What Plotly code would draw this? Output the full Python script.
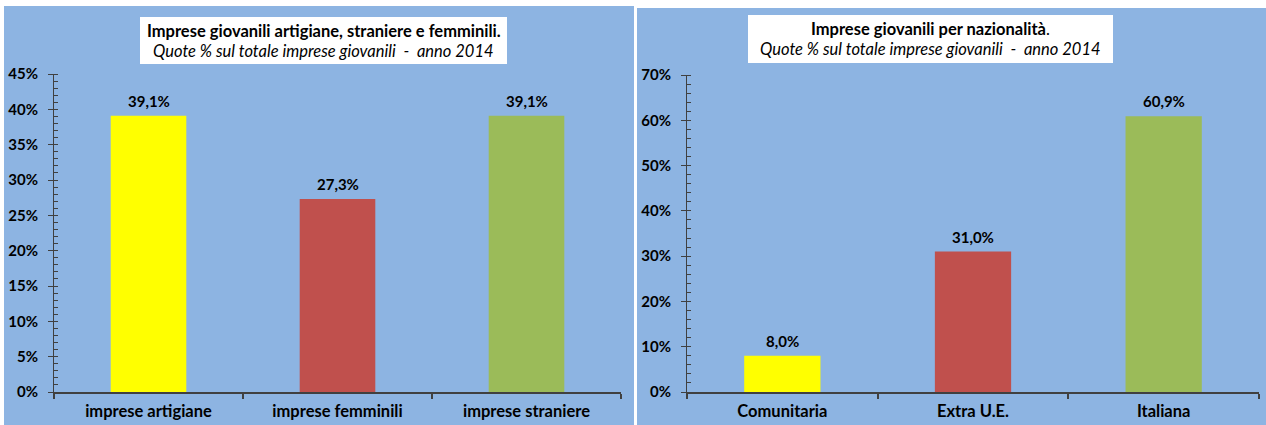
import plotly.graph_objects as go

W, H = 1266, 425

# ---- data ----
cat_left = ["imprese artigiane", "imprese femminili", "imprese straniere"]
val_left = [0.391, 0.273, 0.391]
cat_right = ["Comunitaria", "Extra U.E.", "Italiana"]
val_right = [0.080, 0.310, 0.609]
bar_colors = ["#FFFF00", "#C0504D", "#9BBB59"]

title_left = "<b>Imprese giovanili artigiane, straniere e femminili.</b>"
title_right = "<b>Imprese giovanili per nazionalità</b>."
subtitle = "<i>Quote % sul totale imprese giovanili  -  anno 2014</i>"

FONT = "Lato"
BG = "#8DB4E2"
AX = "#404040"
BOLD = dict(family=FONT, color="#000000", weight="bold")


def px(x):
    return x / W


def py(y):
    return 1 - y / H


fig = go.Figure()
fig.add_trace(go.Bar(x=cat_left, y=val_left, marker=dict(color=bar_colors, line=dict(width=0)),
                     width=0.4, xaxis="x", yaxis="y", hoverinfo="skip"))
fig.add_trace(go.Bar(x=cat_right, y=val_right, marker=dict(color=bar_colors, line=dict(width=0)),
                     width=0.4, xaxis="x2", yaxis="y2", hoverinfo="skip"))

common_x = dict(type="category", showline=True, linecolor=AX, linewidth=1.5, ticks="outside",
                tickson="boundaries", ticklen=5, tickcolor=AX, tickwidth=1.5, showgrid=False,
                tickfont=dict(size=16.5, **BOLD), zeroline=False, ticklabelstandoff=3,
                range=[-0.5, 2.5], fixedrange=True, automargin=False)
common_y = dict(showline=True, linecolor=AX, linewidth=1, ticks="outside", ticklen=5,
                tickcolor=AX, showgrid=False, zeroline=False, tickformat=".0%",
                ticklabelstandoff=7, automargin=False,
                tickfont=dict(size=15, **BOLD), fixedrange=True)


def label_fmt(v):
    return ("%.1f%%" % (v * 100)).replace(".", ",")


annotations = []
for cats, vals, xr, yr in [(cat_left, val_left, "x", "y"), (cat_right, val_right, "x2", "y2")]:
    for c, v in zip(cats, vals):
        annotations.append(dict(text=label_fmt(v), x=c, y=v, xref=xr, yref=yr, showarrow=False,
                                xanchor="center", yanchor="bottom", yshift=4,
                                font=dict(size=15, **BOLD)))

TF = dict(family=FONT, size=16.5, color="#000000")
annotations += [
    dict(text=title_left, xref="paper", yref="paper", x=px(323.5), y=py(31), showarrow=False,
         font=TF, xanchor="center", yanchor="middle"),
    dict(text=subtitle, xref="paper", yref="paper", x=px(323.5), y=py(51), showarrow=False,
         font=TF, xanchor="center", yanchor="middle"),
    dict(text=title_right, xref="paper", yref="paper", x=px(930.5), y=py(29), showarrow=False,
         font=TF, xanchor="center", yanchor="middle"),
    dict(text=subtitle, xref="paper", yref="paper", x=px(930.5), y=py(49), showarrow=False,
         font=TF, xanchor="center", yanchor="middle"),
]

fig.update_layout(
    width=W, height=H, margin=dict(l=0, r=0, t=0, b=0, pad=0, autoexpand=False),
    paper_bgcolor="white", plot_bgcolor="rgba(0,0,0,0)", showlegend=False,
    xaxis=dict(domain=[px(54), px(621)], anchor="y", **common_x),
    yaxis=dict(domain=[py(392), py(74)], anchor="x", range=[0, 0.45], dtick=0.05,
               minor=dict(ticks="inside", ticklen=4, dtick=0.01, tickcolor=AX, showgrid=False),
               **common_y),
    xaxis2=dict(domain=[px(687), px(1259)], anchor="y2", **common_x),
    yaxis2=dict(domain=[py(392), py(75)], anchor="x2", range=[0, 0.70], dtick=0.10,
                minor=dict(ticks="inside", ticklen=4, dtick=0.02, tickcolor=AX, showgrid=False),
                **common_y),
    shapes=[
        dict(type="rect", xref="paper", yref="paper", x0=px(4), x1=px(634), y0=0, y1=py(6),
             fillcolor=BG, line=dict(width=0), layer="below"),
        dict(type="rect", xref="paper", yref="paper", x0=px(637), x1=1, y0=0, y1=py(8),
             fillcolor=BG, line=dict(width=0), layer="below"),
        dict(type="rect", xref="paper", yref="paper", x0=px(140), x1=px(507), y0=py(64), y1=py(17),
             fillcolor="white", line=dict(width=0), layer="below"),
        dict(type="rect", xref="paper", yref="paper", x0=px(748), x1=px(1113), y0=py(63), y1=py(15),
             fillcolor="white", line=dict(width=0), layer="below"),
    ],
    annotations=annotations,
)

post = ("document.documentElement.style.cssText='margin:0;padding:0;overflow:hidden;height:425px;';"
        "document.body.style.cssText='margin:0;padding:0;overflow:hidden;height:425px;';"
        "var d=document.getElementById('{plot_id}');"
        "if(d){d.style.position='fixed';d.style.left='0px';d.style.top='0px';}")

fig.write_html("out.html", post_script=post, config={"displayModeBar": False})
